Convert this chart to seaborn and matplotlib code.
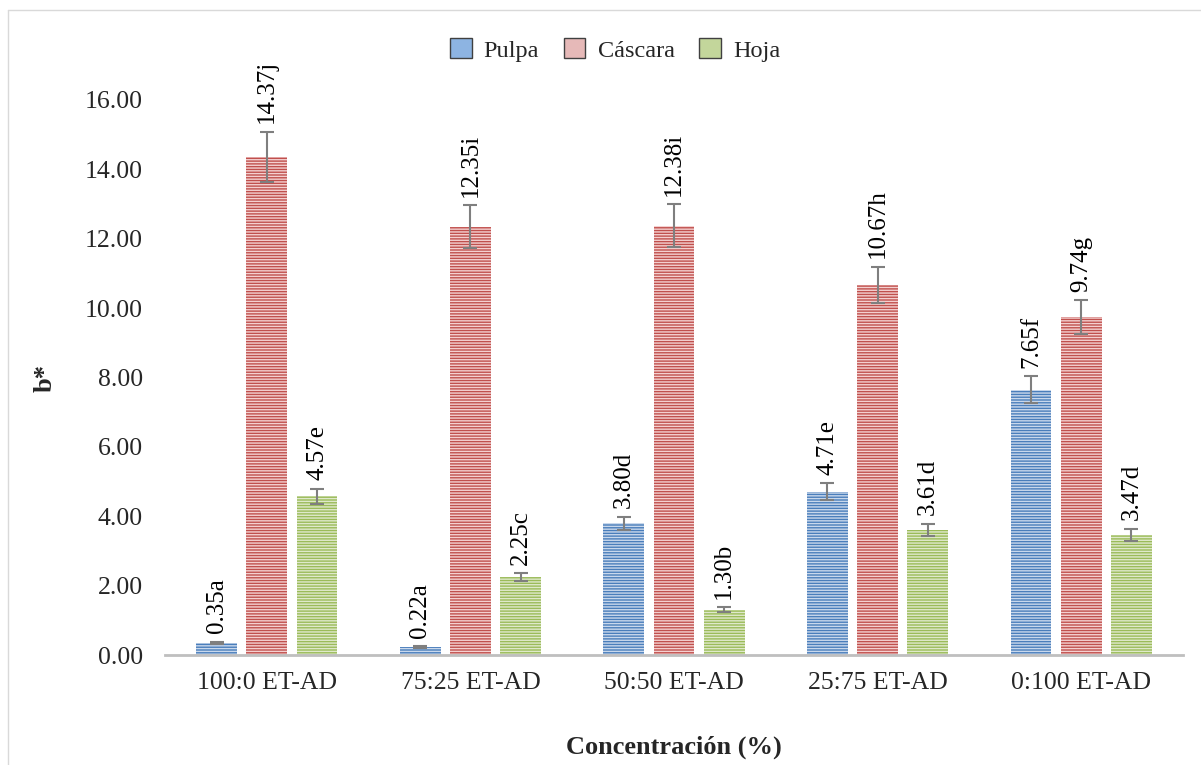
import matplotlib
matplotlib.use("Agg")
import matplotlib.pyplot as plt
import seaborn as sns
import pandas as pd
import numpy as np
from matplotlib.patches import Patch
from matplotlib.lines import Line2D

categories = ["100:0 ET-AD", "75:25 ET-AD", "50:50 ET-AD", "25:75 ET-AD", "0:100 ET-AD"]
series = ["Pulpa", "Cáscara", "Hoja"]
pulpa = [0.35, 0.22, 3.80, 4.71, 7.65]
cascara = [14.37, 12.35, 12.38, 10.67, 9.74]
hoja = [4.57, 2.25, 1.30, 3.61, 3.47]
pulpa_err = [0.03, 0.03, 0.19, 0.24, 0.38]
cascara_err = [0.72, 0.62, 0.62, 0.53, 0.49]
hoja_err = [0.23, 0.11, 0.07, 0.18, 0.17]
pulpa_lbl = ["0.35a", "0.22a", "3.80d", "4.71e", "7.65f"]
cascara_lbl = ["14.37j", "12.35i", "12.38i", "10.67h", "9.74g"]
hoja_lbl = ["4.57e", "2.25c", "1.30b", "3.61d", "3.47d"]
yticks = [0, 2, 4, 6, 8, 10, 12, 14, 16]

sns.set_theme(style="white")
plt.rcParams['font.family'] = ['Liberation Serif', 'DejaVu Serif']
plt.rcParams['hatch.linewidth'] = 1.0

rows = []
for s, vals in zip(series, [pulpa, cascara, hoja]):
    for c, v in zip(categories, vals):
        rows.append({"Concentración": c, "Serie": s, "b": v})
df = pd.DataFrame(rows)

face = {"Pulpa": "#4a7ebb", "Cáscara": "#c0504d", "Hoja": "#9bbb59"}
light = {"Pulpa": "#c9d8ec", "Cáscara": "#f4d0d0", "Hoja": "#dfe9cb"}
legend_face = {"Pulpa": "#8db4e2", "Cáscara": "#e6b9b8", "Hoja": "#c3d69b"}

fig = plt.figure(figsize=(12.01, 7.65), dpi=100)
ax = fig.add_axes([165/1201, 1-655/765, (1183-165)/1201, (655-100)/765])

sns.barplot(data=df, x="Concentración", y="b", hue="Serie", order=categories,
            hue_order=series, palette=face, width=0.74, gap=0.19, ax=ax,
            legend=False, errorbar=None, saturation=1)

errs = [pulpa_err, cascara_err, hoja_err]
lbls = [pulpa_lbl, cascara_lbl, hoja_lbl]
vals_all = [pulpa, cascara, hoja]
bar_containers = list(ax.containers)
for i, cont in enumerate(bar_containers):
    s = series[i]
    xs = []
    for bar in cont:
        bar.set_hatch("------")
        bar.set_edgecolor(light[s])
        bar.set_linewidth(0)
        bar.set_facecolor(face[s])
        xs.append(bar.get_x() + bar.get_width()/2)
    ax.errorbar(xs, vals_all[i], yerr=errs[i], fmt="none", ecolor="#7f7f7f",
                elinewidth=1.5, capsize=5, capthick=1.5, zorder=5)
    for x, v, e, t in zip(xs, vals_all[i], errs[i], lbls[i]):
        ax.annotate(t, (x, v + e), xytext=(0, 6), textcoords="offset points",
                    rotation=90, ha="center", va="bottom", fontsize=18,
                    color="#000000", annotation_clip=False)

ax.set_ylim(0, 16)
ax.set_xlim(-0.5, 4.5)
ax.set_yticks(yticks)
ax.set_yticklabels([f"{v:.2f}" for v in yticks], fontsize=18.5)
ax.tick_params(axis="x", labelsize=18.5, length=0, pad=12)
ax.tick_params(axis="y", length=0, pad=16)
for sp in ["top", "right", "left"]:
    ax.spines[sp].set_visible(False)
ax.spines["bottom"].set_color("#bfbfbf")
ax.spines["bottom"].set_linewidth(2)
ax.set_xlabel("Concentración (%)", fontsize=19, fontweight="bold", labelpad=30)
ax.set_ylabel("b*", fontsize=19, fontweight="bold", labelpad=20)
ax.patch.set_alpha(0)

handles = [Patch(facecolor=legend_face[s], edgecolor="#404040", linewidth=1) for s in series]
fig.legend(handles, series, loc="center", bbox_to_anchor=(0.512, 1-50/765), ncol=3,
           frameon=False, fontsize=17.5, handlelength=0.9, handleheight=0.9,
           columnspacing=1.0, handletextpad=0.5)

fig.add_artist(Line2D([8/1201, 8/1201], [0, 1-10/765], color="#d9d9d9", lw=1))
fig.add_artist(Line2D([8/1201, 1], [1-10/765, 1-10/765], color="#d9d9d9", lw=1))

fig.savefig("out.png", dpi=100)
